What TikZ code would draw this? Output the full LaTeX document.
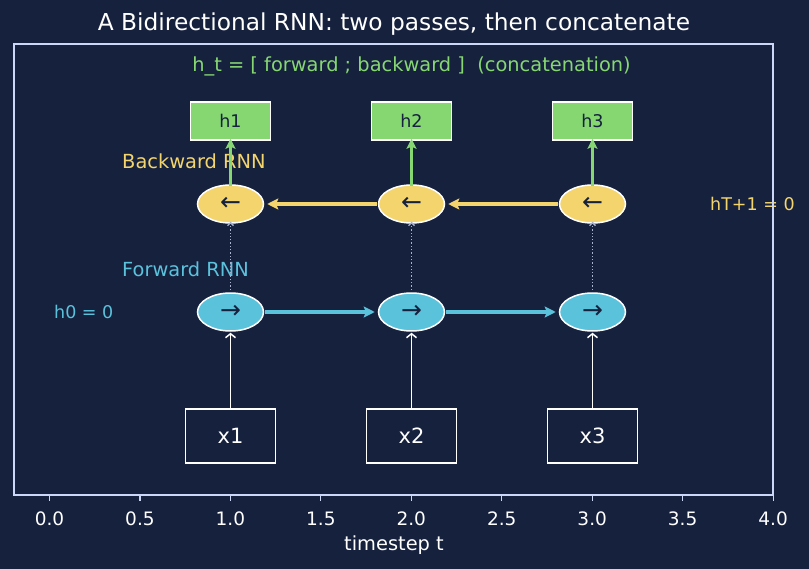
\documentclass[tikz,border=0pt]{standalone}
\usepackage{fontspec}
\setmainfont{DejaVu Sans}
\usetikzlibrary{arrows.meta,shapes.geometric}
\definecolor{bg}{HTML}{16213E}
\definecolor{spine}{HTML}{CCD6F6}
\definecolor{fgreen}{HTML}{86D672}
\definecolor{byellow}{HTML}{F4D46C}
\definecolor{fblue}{HTML}{5BC2DC}
\definecolor{dotgray}{HTML}{AAB4D0}
\definecolor{darktext}{HTML}{16213E}
\newcommand{\fsz}[1]{\fontsize{#1}{#1}\selectfont}
\begin{document}
\begin{tikzpicture}[x=1pt,y=-1pt,
  hbox/.style={draw=white,line width=1.5,fill=fgreen,minimum width=80,minimum height=38,inner sep=0,text=darktext,font=\fsz{17.5}},
  bwd/.style={ellipse,draw=white,line width=1.5,fill=byellow,minimum width=66,minimum height=38,inner sep=0,text=darktext,font=\fsz{25}},
  fwd/.style={ellipse,draw=white,line width=1.5,fill=fblue,minimum width=66,minimum height=38,inner sep=0,text=darktext,font=\fsz{25}},
  xbox/.style={draw=white,line width=1.5,minimum width=90,minimum height=54,inner sep=0,text=white,font=\fsz{21}},
  lbl/.style={inner sep=0,font=\fsz{19.4}},
  small/.style={inner sep=0,font=\fsz{17.5}},
  tick/.style={inner sep=0,text=white,font=\fsz{18.5}},
  yarr/.style={draw=byellow,line width=3.2,-{Stealth[length=11pt,width=11pt,inset=2pt]}},
  barr/.style={draw=fblue,line width=3.2,-{Stealth[length=11pt,width=11pt,inset=2pt]}},
  garr/.style={draw=fgreen,line width=2.5,-{Stealth[length=10pt,width=10pt,inset=2pt]}},
  darr/.style={draw=dotgray,line width=1.3,dash pattern=on 1.3pt off 2pt,-{Straight Barb[length=3pt,width=6pt]}},
  warr/.style={draw=white,line width=1.5,-{Straight Barb[length=4pt,width=10pt]}},
]
\useasboundingbox (0,0) rectangle (809,569);
\fill[bg] (0,0) rectangle (809,569);

% title and formula
\node[lbl,text=white,font=\fsz{23.3}] (title) at (394,24) {A Bidirectional RNN: two passes, then concatenate};
\node[lbl,text=fgreen] (formula) at (411.5,66.5) {h\_t = [ forward ; backward ]\ \ (concatenation)};

% labels
\node[lbl,text=byellow,anchor=west] (bwdlbl) at (122,161) {Backward RNN};
\node[lbl,text=fblue,anchor=west] (fwdlbl) at (122,269) {Forward RNN};
\node[small,text=fblue,anchor=west] (h0) at (54,312) {h0 = 0};
\node[small,text=byellow,anchor=west] (hT) at (710,204) {hT+1 = 0};

% nodes
\foreach \i/\x in {1/230.5,2/411.5,3/592.5}{
  \node[hbox] (h\i) at (\x,121) {h\i};
  \node[bwd] (b\i) at (\x,204) {←};
  \node[fwd] (f\i) at (\x,312) {→};
  \node[xbox] (x\i) at (\x,436) {x\i};
}

% connectors
\foreach \i in {1,2,3}{
  \draw[warr] ([yshift=-1]x\i.north) -- ([yshift=-1]f\i.south);
  \draw[darr] ([yshift=-1]f\i.north) -- ([yshift=2]b\i.south);
  \draw[garr] ([yshift=-2]b\i.north) -- ([yshift=2]h\i.south);
}
\draw[barr] ([xshift=1]f1.east) -- ([xshift=-3]f2.west);
\draw[barr] ([xshift=1]f2.east) -- ([xshift=-3]f3.west);
\draw[yarr] ([xshift=-1]b2.west) -- ([xshift=3]b1.east);
\draw[yarr] ([xshift=-1]b3.west) -- ([xshift=3]b2.east);

% axes frame
\draw[spine,line width=1.5] (14,44) rectangle (773,495);
\foreach \k/\lab in {0/0.0,1/0.5,2/1.0,3/1.5,4/2.0,5/2.5,6/3.0,7/3.5,8/4.0}{
  \pgfmathsetmacro{\px}{49.5+90.45*\k}
  \draw[spine,line width=1.2] (\px,495) -- (\px,501);
  \node[tick] (t\k) at (\px,519) {\lab};
}
\node[lbl,text=white] (xlabel) at (394,545) {timestep t};
\end{tikzpicture}
\end{document}
